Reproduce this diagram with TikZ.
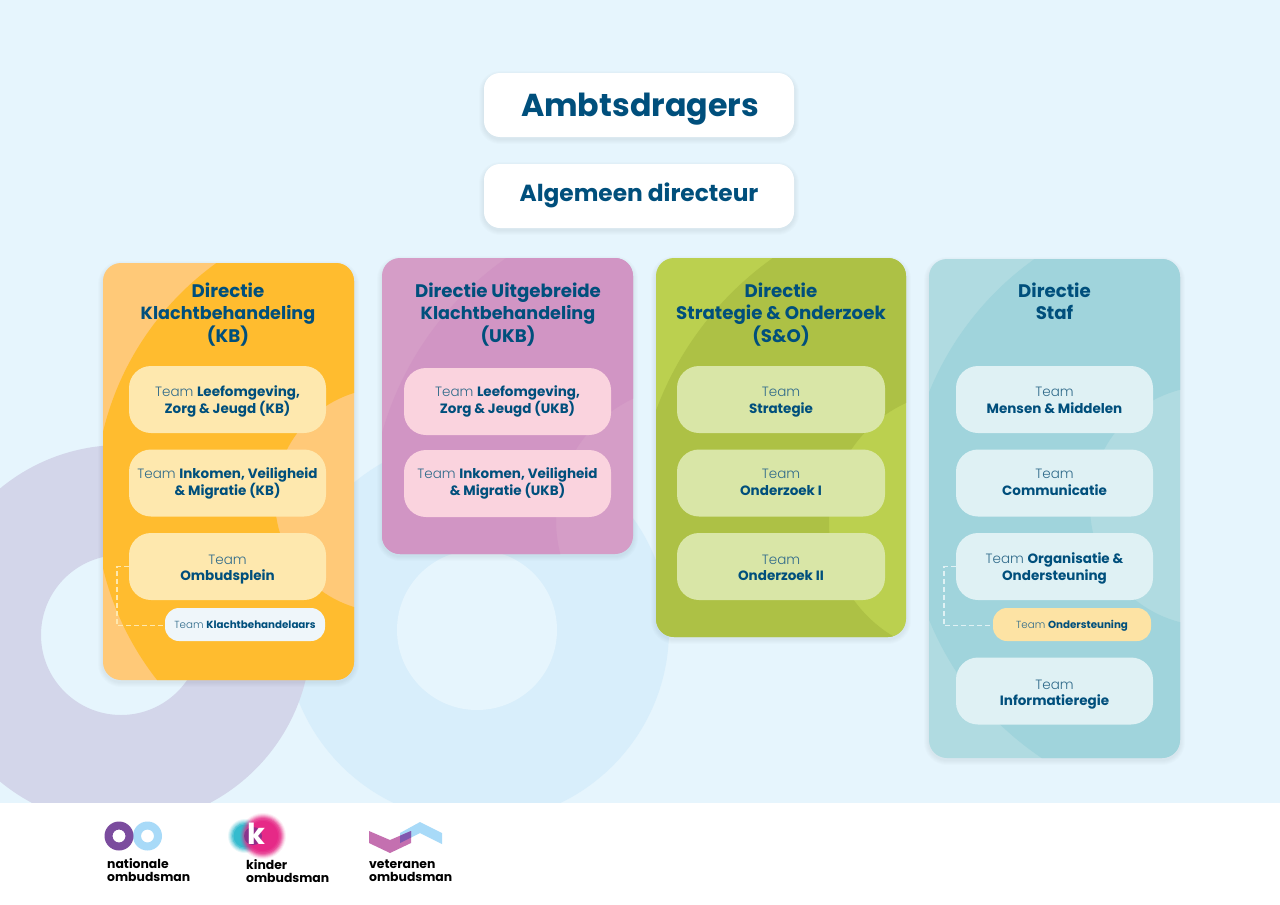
\documentclass[tikz,border=0pt]{standalone}
\usepackage{fontspec}
\setmainfont{Poppins}
\newfontfamily\lightf{Poppins Light}
\definecolor{bgblue}{HTML}{E6F5FD}
\definecolor{ringlav}{HTML}{D3D6EA}
\definecolor{ringblue}{HTML}{D8EEFB}
\definecolor{ink}{HTML}{004F7C}
\definecolor{thin}{HTML}{2F6A8A}
\definecolor{kbA}{HTML}{FFC978}\definecolor{kbB}{HTML}{FFBC2F}\definecolor{kbT}{HTML}{FEE8AE}
\definecolor{ukA}{HTML}{D59DC7}\definecolor{ukB}{HTML}{D195C4}\definecolor{ukT}{HTML}{FAD3DE}
\definecolor{soA}{HTML}{BBD04F}\definecolor{soB}{HTML}{ADC145}\definecolor{soT}{HTML}{D9E6A7}
\definecolor{stA}{HTML}{B0DBE1}\definecolor{stB}{HTML}{A0D4DC}\definecolor{stT}{HTML}{DFF1F4}
\definecolor{subW}{HTML}{EFF6FA}\definecolor{subY}{HTML}{FDE3A4}
\newcommand{\softbox}[6]{% x0 y0 x1 y1 radius colour
  \foreach \g in {5,4,3,2,1}{
    \fill[black,opacity=.011,rounded corners=#5pt+\g pt] (#1-\g,#2-\g+3) rectangle (#3+\g,#4+\g+2);}
  \fill[#6,rounded corners=#5pt] (#1,#2) rectangle (#3,#4);}
\newcommand{\cardshape}[9]{% x0 y0 x1 y1 cx cy R r, colour stem
  \softbox{#1}{#2}{#3}{#4}{18}{#9A}
  \begin{scope}
    \clip[rounded corners=18pt] (#1,#2) rectangle (#3,#4);
    \fill[#9B,even odd rule] (#5,#6) circle (#7pt) (#5,#6) circle (#8pt);
  \end{scope}}
% two lines of text, pushed #1 pt down from the box centre
\newcommand{\TB}[3]{\rule{0pt}{\dimexpr 11pt+#1pt*2\relax}#2\\#3\rule[-3.5pt]{0pt}{3.5pt}}
\newcommand{\SB}[1]{\rule{0pt}{10pt}#1\rule[-2.5pt]{0pt}{2.5pt}}
\tikzset{
  teamtext/.style={text=ink,align=center,inner sep=0pt},
  headbox/.style={teamtext,font=\fontsize{18.2}{22.5}\selectfont\bfseries},
  teambox/.style={teamtext,rounded corners=22pt,minimum width=#1,minimum height=67pt,font=\fontsize{13.5}{16.6}\selectfont},
  subbox/.style={teamtext,rounded corners=14pt,minimum width=#1,minimum height=33pt,font=\fontsize{10.3}{13}\selectfont},
  dashlink/.style={dash pattern=on 5pt off 3pt,line width=1.4pt},
  logotext/.style={inner sep=0pt,align=left,anchor=north west,text=black,font=\fontsize{12.4}{13}\selectfont\bfseries},
}
\newcommand{\T}{{\lightf\color{thin}Team}}
\newcommand{\Kl}{{\fontsize{17.6}{22.5}\selectfont Klachtbehandeling}}
\begin{document}
\begin{tikzpicture}[x=1pt,y=-1pt]
\useasboundingbox (0,0) rectangle (1280,905);
\fill[bgblue] (0,0) rectangle (1280,905);
% background rings
\fill[ringblue] (477,630) circle (192pt);
\fill[bgblue] (477,630) circle (80pt);
\fill[ringlav,even odd rule] (121,635) circle (190pt) (121,635) circle (80pt);
\fill[white] (0,803) rectangle (1280,905);
% title boxes
\softbox{484}{73}{794}{137}{16}{white}
\softbox{484}{164}{794}{228}{16}{white}
\node[teamtext,font=\fontsize{31.7}{36}\selectfont\bfseries] (amb) at (640,109) {Ambtsdragers};
\node[teamtext,font=\fontsize{23.3}{28}\selectfont\bfseries] (alg) at (639,195) {Algemeen directeur};
% cards
\cardshape{103}{263}{354}{680}{387}{500}{292}{112}{kb}
\cardshape{382}{258}{633}{554}{690}{520}{320}{134}{uk}
\cardshape{656}{258}{906}{637}{961}{523}{325}{132}{so}
\cardshape{929}{259}{1180}{758}{1210}{506}{303}{120}{st}
% card headings
\node[headbox] (hkb) at (228,314.5) {Directie\\\Kl\\(KB)};
\node[headbox] (huk) at (508,314.5) {Directie Uitgebreide\\\Kl\\(UKB)};
\node[headbox] (hso) at (781,314.5) {Directie\\Strategie \& Onderzoek\\(S\&O)};
\node[headbox] (hst) at (1054.5,301.5) {Directie\\Staf};
% KB
\node[teambox=197pt,fill=kbT] (kb1) at (227.5,399.5) {\TB{1.8}{\T\ \textbf{Leefomgeving,}}{\textbf{Zorg \& Jeugd (KB)}}};
\node[teambox=197pt,fill=kbT] (kb2) at (227.5,483) {\TB{.6}{\T\ \textbf{Inkomen, Veiligheid}}{\textbf{\& Migratie (KB)}}};
\node[teambox=197pt,fill=kbT] (kb3) at (227.5,566.5) {\TB{2.1}{\T}{\textbf{Ombudsplein}}};
\node[subbox=160pt,fill=subW] (kb4) at (245,624.5) {\SB{\T\ \textbf{Klachtbehandelaars}}};
\draw[dashlink,color=kbT] (kb3.west) -- ++(-12,0) |- ([yshift=-1pt]kb4.west);
% UKB
\node[teambox=207pt,fill=ukT] (uk1) at (507.5,401.5) {\TB{0}{\T\ \textbf{Leefomgeving,}}{\textbf{Zorg \& Jeugd (UKB)}}};
\node[teambox=207pt,fill=ukT] (uk2) at (507.5,483.5) {\TB{0}{\T\ \textbf{Inkomen, Veiligheid}}{\textbf{\& Migratie (UKB)}}};
% S&O
\node[teambox=208pt,fill=soT] (so1) at (781,399.5) {\TB{1.8}{\T}{\textbf{Strategie}}};
\node[teambox=208pt,fill=soT] (so2) at (781,483) {\TB{0}{\T}{\textbf{Onderzoek I}}};
\node[teambox=208pt,fill=soT] (so3) at (781,566.5) {\TB{2.1}{\T}{\textbf{Onderzoek II}}};
% Staf
\node[teambox=197pt,fill=stT] (st1) at (1054.5,399.5) {\TB{1.8}{\T}{\textbf{Mensen \& Middelen}}};
\node[teambox=197pt,fill=stT] (st2) at (1054.5,483) {\TB{0}{\T}{\textbf{Communicatie}}};
\node[teambox=197pt,fill=stT] (st3) at (1054.5,566.5) {\TB{2.1}{\T\ \textbf{Organisatie \&}}{\textbf{Ondersteuning}}};
\node[subbox=158pt,fill=subY] (st4) at (1072,624.5) {\SB{\T\ \textbf{Ondersteuning}}};
\node[teambox=197pt,fill=stT] (st5) at (1054.5,691) {\TB{3}{\T}{\textbf{Informatieregie}}};
\draw[dashlink,color=stT] (st3.west) -- ++(-12,0) |- ([yshift=-1pt]st4.west);
% logo: nationale ombudsman
\fill[color={rgb,255:red,168;green,218;blue,248},even odd rule] (147.5,836) circle (14.5pt) (147.5,836) circle (6.5pt);
\fill[color={rgb,255:red,123;green,76;blue,158},even odd rule] (119,836) circle (14.5pt) (119,836) circle (6.5pt);
\node[logotext] (lgn) at (107,858) {nationale\\ombudsman};
% logo: kinder ombudsman
\foreach \rr/\op in {17/.10,16/.15,15/.2,14/.3,13/.5,11.5/.8}
  \fill[color={rgb,255:red,45;green,185;blue,205},opacity=\op] (245,836) circle (\rr pt);
\foreach \rr/\op in {23/.08,22/.12,21/.2,20/.25,19/.35,18/.45,16.5/.6,15/.9}
  \fill[color={rgb,255:red,230;green,40;blue,135},opacity=\op] (263,836) circle (\rr pt);
\fill[color={rgb,255:red,110;green,50;blue,140},opacity=.7] (253,836) circle (9pt);
\node[inner sep=0pt,text=white,font=\fontsize{29}{29}\selectfont\bfseries] (lgk) at (256,834) {k};
\node[logotext] (lgd) at (246,859) {kinder\\ombudsman};
% logo: veteranen ombudsman
\fill[color={rgb,255:red,168;green,218;blue,248}] (400,833) -- (420,822) -- (442,833) -- (442,844) -- (420,833) -- (400,843) -- cycle;
\fill[color={rgb,255:red,196;green,112;blue,176}] (369,831) -- (369,843) -- (390,853) -- (411,843) -- (411,831) -- (390,840) -- cycle;
\begin{scope}
  \clip (369,831) -- (369,843) -- (390,853) -- (411,843) -- (411,831) -- (390,840) -- cycle;
  \fill[color={rgb,255:red,128;green,88;blue,176}] (400,833) -- (420,822) -- (442,833) -- (442,844) -- (420,833) -- (400,843) -- cycle;
\end{scope}
\node[logotext] (lgv) at (369,860) {veteranen\\ombudsman};
\end{tikzpicture}
\end{document}
